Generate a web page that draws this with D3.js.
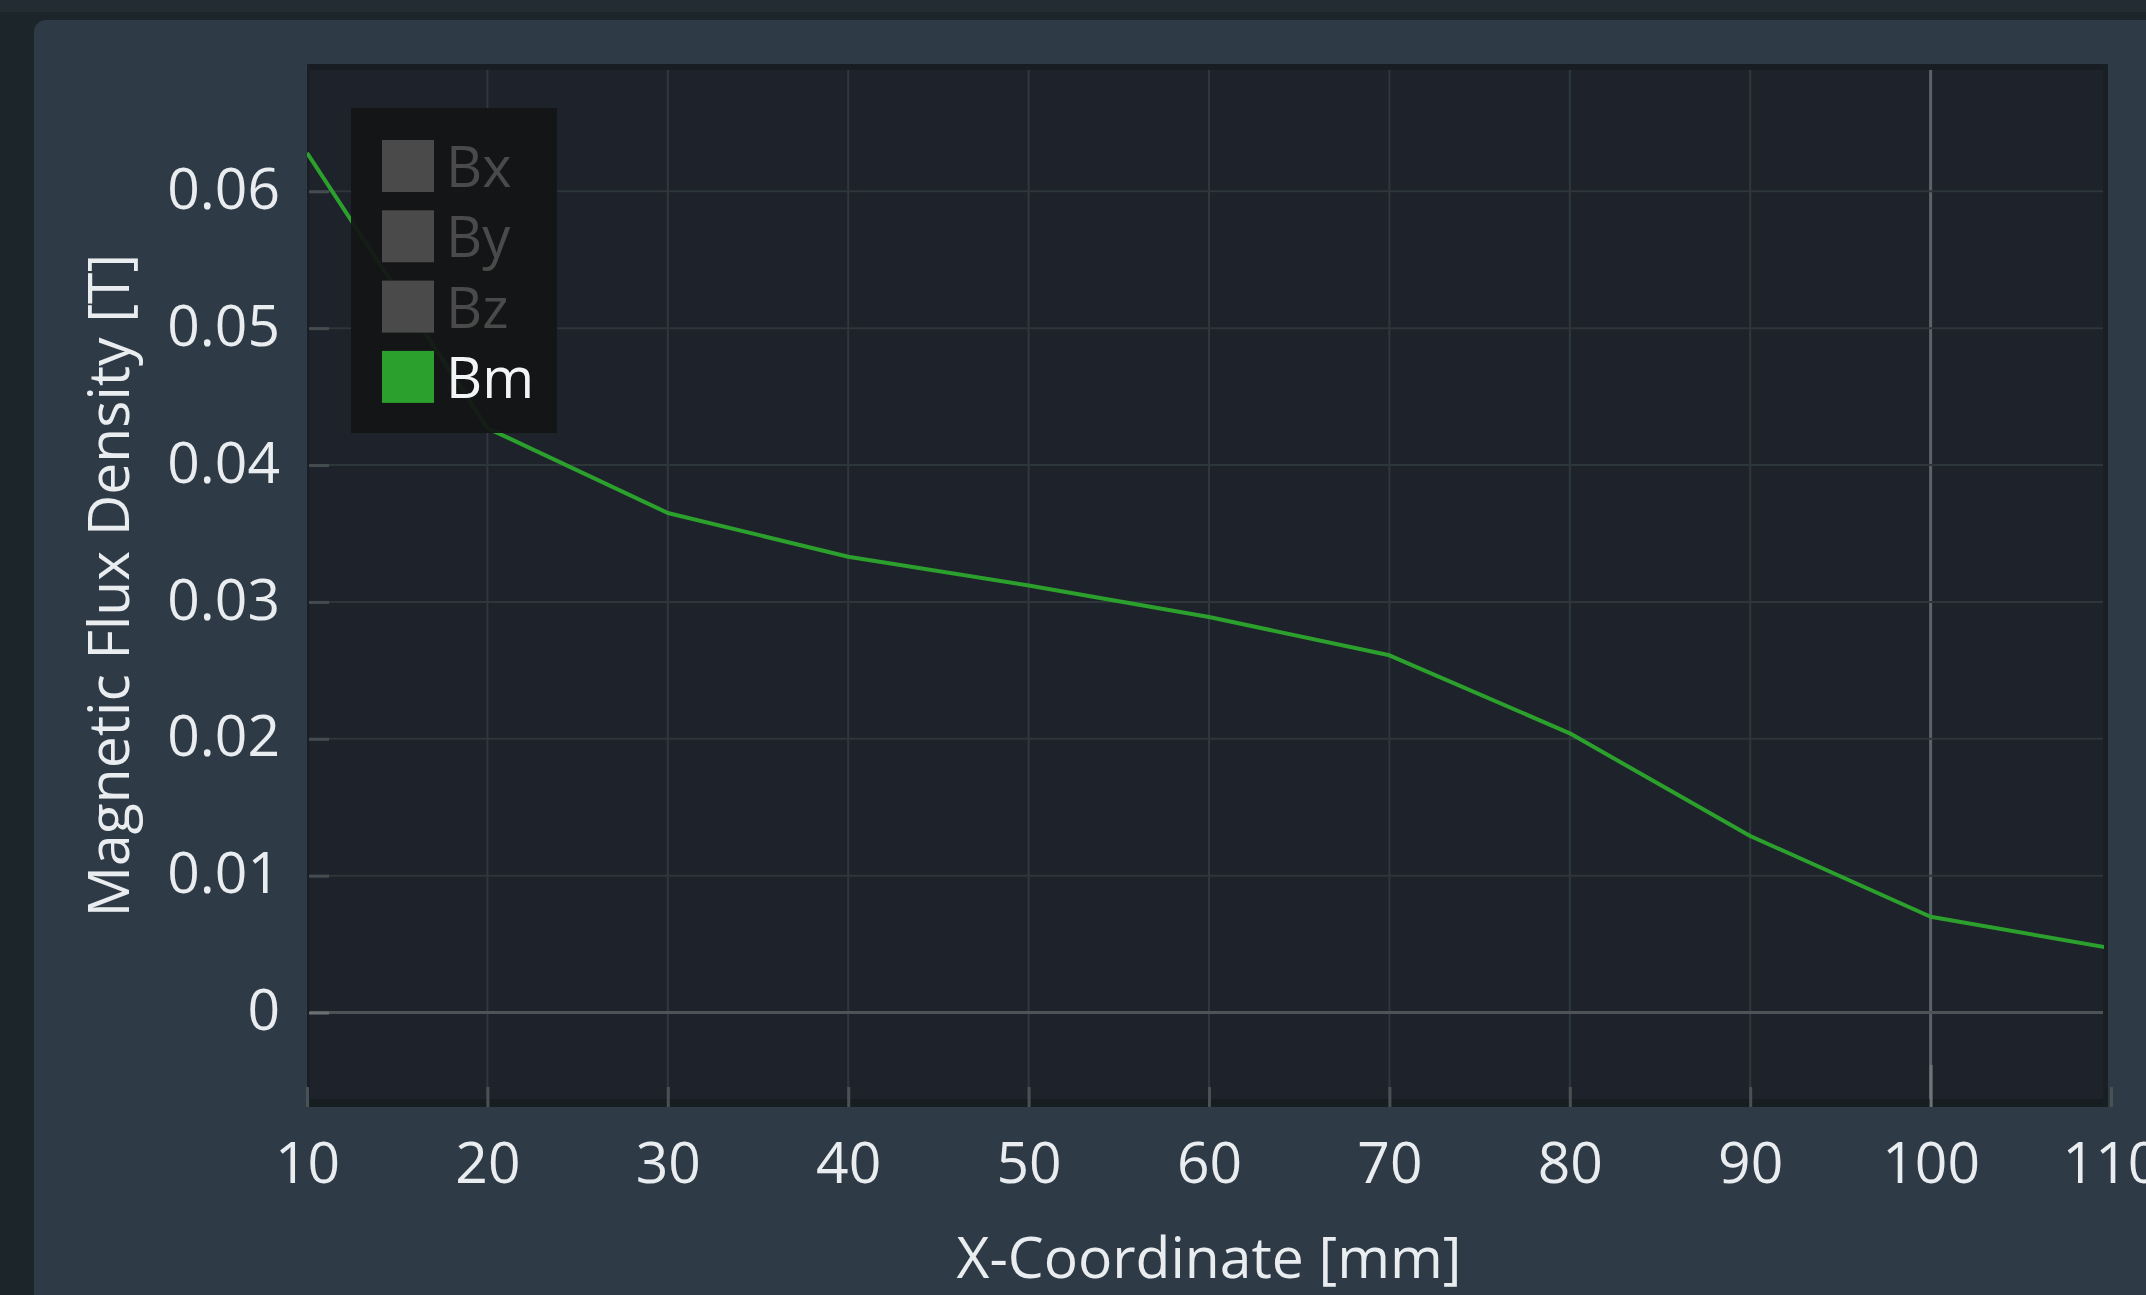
<!DOCTYPE html>
<html>
<head>
<meta charset="utf-8">
<script src="https://cdn.jsdelivr.net/npm/d3@7"></script>
<style>
  html, body { margin: 0; padding: 0; background: #1c2529; overflow: hidden; }
  svg { display: block; font-family: "Open Sans", "Noto Sans", sans-serif; }
</style>
</head>
<body>
<svg id="chart" width="2146" height="1295"></svg>
<script>
// Field profile along the X axis
const xPositions = [10, 20, 30, 40, 50, 60, 70, 80, 90, 100, 110];
const bmValues   = [0.0628, 0.0427, 0.0365, 0.0333, 0.0312, 0.0289, 0.0261, 0.0204, 0.0129, 0.0070, 0.0047];

const xTicks = [10, 20, 30, 40, 50, 60, 70, 80, 90, 100, 110];
const yTicks = [0, 0.01, 0.02, 0.03, 0.04, 0.05, 0.06];

const legendNames  = ["Bx", "By", "Bz", "Bm"];
const legendActive = [false, false, false, true];
const seriesColor  = "#2ca02c";

const xTitle = "X-Coordinate [mm]";
const yTitle = "Magnetic Flux Density [T]";

const W = 2146, H = 1295;
const plot = { left: 307, top: 64, right: 2108, bottom: 1107 };

const svg = d3.select("#chart");

// page background bands and the card
svg.append("rect").attr("x", 0).attr("y", 0).attr("width", W).attr("height", H).attr("fill", "#1c2529");
svg.append("rect").attr("x", 0).attr("y", 0).attr("width", W).attr("height", 12).attr("fill", "#222c32");
svg.append("rect").attr("x", 34).attr("y", 20).attr("width", W).attr("height", H + 20)
  .attr("rx", 12).attr("fill", "#2e3a46");

const x = d3.scaleLinear().domain([10, 110]).range([307, 2111]);
const y = d3.scaleLinear().domain([-0.0069, 0.0693]).range([plot.bottom, plot.top]);

// plot background
svg.append("rect")
  .attr("x", plot.left).attr("y", plot.top)
  .attr("width", plot.right - plot.left).attr("height", plot.bottom - plot.top)
  .attr("fill", "#1e222a");
// darker edges of the plot frame
svg.append("rect").attr("x", plot.left).attr("y", plot.top).attr("width", plot.right - plot.left).attr("height", 6).attr("fill", "#191d23");
svg.append("rect").attr("x", plot.left).attr("y", plot.bottom - 8).attr("width", plot.right - plot.left).attr("height", 8).attr("fill", "#171e21");
svg.append("rect").attr("x", plot.right - 5).attr("y", plot.top).attr("width", 5).attr("height", plot.bottom - plot.top).attr("fill", "#182024");
svg.append("rect").attr("x", plot.left).attr("y", plot.top).attr("width", 3).attr("height", plot.bottom - plot.top).attr("fill", "#1a1f25");

const gridG = svg.append("g");

// vertical grid lines
gridG.selectAll("line.vx")
  .data(xTicks.filter(d => d > 10 && d < 110))
  .join("line")
  .attr("x1", d => x(d)).attr("x2", d => x(d))
  .attr("y1", plot.top + 6).attr("y2", plot.bottom - 8)
  .attr("stroke", d => d === 100 ? "#59636a" : "#2f393d")
  .attr("stroke-width", d => d === 100 ? 3 : 2);

// horizontal grid lines
gridG.selectAll("line.hy")
  .data(yTicks)
  .join("line")
  .attr("x1", plot.left + 3).attr("x2", plot.right - 5)
  .attr("y1", d => y(d)).attr("y2", d => y(d))
  .attr("stroke", d => d === 0 ? "#4d5457" : "#2d363a")
  .attr("stroke-width", d => d === 0 ? 3 : 2);

// y axis: short inner ticks and labels
const yAxis = d3.axisRight(y)
  .tickValues(yTicks)
  .tickSize(20)
  .tickFormat(d => d === 0 ? "0" : d3.format(".2f")(d));
const yAxisG = svg.append("g").attr("transform", `translate(${plot.left + 2},0)`).call(yAxis);
yAxisG.select(".domain").remove();
yAxisG.selectAll(".tick line")
  .attr("stroke", d => d === 0 ? "#6a6f72" : "#454c50")
  .attr("stroke-width", 3);
yAxisG.selectAll(".tick text")
  .attr("x", -29)
  .attr("dy", "0.3em")
  .attr("text-anchor", "end")
  .attr("fill", "#e9edf0")
  .attr("font-size", 57)
  .attr("font-family", "Open Sans, Noto Sans, sans-serif");

// x axis: ticks rising from the bottom edge and labels below
const xAxis = d3.axisTop(x)
  .tickValues(xTicks)
  .tickSize(20)
  .tickFormat(d3.format("d"));
const xAxisG = svg.append("g").attr("transform", `translate(0,${plot.bottom})`).call(xAxis);
xAxisG.select(".domain").remove();
xAxisG.selectAll(".tick line")
  .attr("stroke", d => d === 100 ? "#6d7478" : "#4a5155")
  .attr("stroke-width", 3)
  .attr("y2", d => d === 100 ? -42 : -20);
xAxisG.selectAll(".tick text")
  .attr("y", 76)
  .attr("dy", 0)
  .attr("text-anchor", "middle")
  .attr("fill", "#e9edf0")
  .attr("font-size", 57)
  .attr("font-family", "Open Sans, Noto Sans, sans-serif");

// the Bm series
svg.append("defs").append("clipPath").attr("id", "plotClip")
  .append("rect").attr("x", plot.left).attr("y", plot.top)
  .attr("width", plot.right - plot.left - 4).attr("height", plot.bottom - plot.top);

const line = d3.line()
  .x((d, i) => x(xPositions[i]))
  .y(d => y(d));

svg.append("path")
  .datum(bmValues)
  .attr("clip-path", "url(#plotClip)")
  .attr("d", line)
  .attr("fill", "none")
  .attr("stroke", seriesColor)
  .attr("stroke-width", 4)
  .attr("stroke-linejoin", "round");

// legend box
const legend = svg.append("g").attr("transform", "translate(351,108)");
legend.append("rect")
  .attr("width", 206).attr("height", 325)
  .attr("fill", "#131414").attr("fill-opacity", 0.93);

const rowPitch = 70.3;
const items = legend.selectAll("g.item")
  .data(legendNames)
  .join("g")
  .attr("transform", (d, i) => `translate(31,${32 + i * rowPitch})`);
items.append("rect")
  .attr("width", 52).attr("height", 52)
  .attr("fill", (d, i) => legendActive[i] ? seriesColor : "#4a4a4a");
items.append("text")
  .attr("x", 64).attr("y", 47)
  .attr("font-size", 56)
  .attr("fill", (d, i) => legendActive[i] ? "#f2f4f5" : "#4a4a4a")
  .text(d => d);

// axis titles
svg.append("text")
  .attr("x", (plot.left + 2111) / 2).attr("y", 1278)
  .attr("text-anchor", "middle")
  .attr("font-size", 57)
  .attr("fill", "#e9edf0")
  .text(xTitle);

svg.append("text")
  .attr("transform", `translate(129,${(plot.top + plot.bottom) / 2}) rotate(-90)`)
  .attr("text-anchor", "middle")
  .attr("font-size", 57)
  .attr("fill", "#e9edf0")
  .text(yTitle);
</script>
</body>
</html>
